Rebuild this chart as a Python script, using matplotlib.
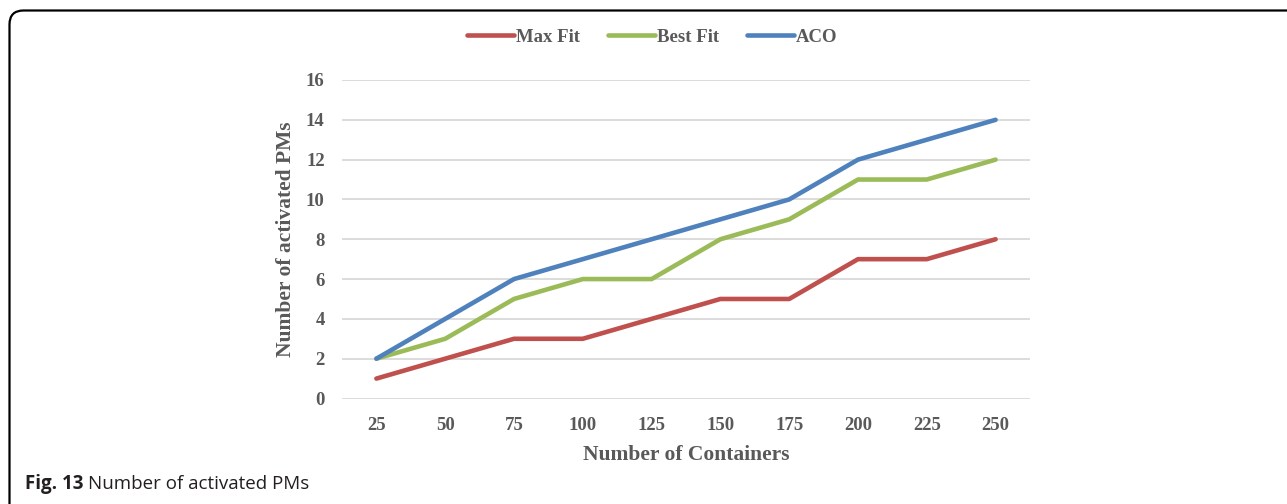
import matplotlib
matplotlib.use("Agg")
import matplotlib.pyplot as plt
from matplotlib.patches import FancyBboxPatch
from matplotlib.transforms import IdentityTransform
import numpy as np

containers = ["25", "50", "75", "100", "125", "150", "175", "200", "225", "250"]
max_fit = [1, 2, 3, 3, 4, 5, 5, 7, 7, 8]
best_fit = [2, 3, 5, 6, 6, 8, 9, 11, 11, 12]
aco = [2, 4, 6, 7, 8, 9, 10, 12, 13, 14]
y_ticks = [0, 2, 4, 6, 8, 10, 12, 14, 16]

W, H, DPI = 1287, 504, 100
fig = plt.figure(figsize=(W / DPI, H / DPI), dpi=DPI)
fig.patch.set_facecolor("white")

serif = ["Liberation Serif", "DejaVu Serif"]
txt_col = "#595959"

# axes placement in pixels
left, right, top, bottom = 342, 1030, 80, 398.5
ax = fig.add_axes([left / W, 1 - bottom / H, (right - left) / W, (bottom - top) / H])

x = np.arange(len(containers))
series = [("Max Fit", max_fit, "#C0504D"),
          ("Best Fit", best_fit, "#9BBB59"),
          ("ACO", aco, "#4F81BD")]
handles = []
for name, vals, col in series:
    h, = ax.plot(x, vals, color=col, lw=3.3, solid_capstyle="round",
                 solid_joinstyle="round", label=name, zorder=3)
    handles.append(h)

ax.set_xlim(-0.5, len(containers) - 0.5)
ax.set_ylim(0, 16)
ax.set_yticks(y_ticks)
ax.set_xticks(x)
ax.set_xticklabels(containers)
ax.grid(axis="y", color="#D9D9D9", lw=1.3)
ax.set_axisbelow(True)
for s in ax.spines.values():
    s.set_visible(False)
ax.tick_params(length=0, labelsize=13.5, labelcolor=txt_col)
ax.tick_params(axis="y", pad=12.5)
ax.tick_params(axis="x", pad=13)
for lab in ax.get_xticklabels() + ax.get_yticklabels():
    lab.set_fontfamily(serif)
    lab.set_fontweight("bold")

ax.set_xlabel("Number of Containers", fontsize=15.5, fontweight="bold",
              color=txt_col, family=serif, labelpad=8)
ax.set_ylabel("Number of activated PMs", fontsize=15.5, fontweight="bold",
              color=txt_col, family=serif, labelpad=7)

leg = fig.legend(handles=handles, loc="center", bbox_to_anchor=(652 / W, 1 - 37 / H),
                 ncol=3, frameon=False, handlelength=2.5, handletextpad=0.1,
                 columnspacing=1.5,
                 prop={"family": serif, "weight": "bold", "size": 13.5})
for t in leg.get_texts():
    t.set_color(txt_col)

# rounded frame around the figure panel
frame = FancyBboxPatch((9.5, -40), 1330, H - 10.5 + 40,
                       boxstyle="round,pad=0,rounding_size=14",
                       transform=IdentityTransform(), fill=False,
                       edgecolor="black", lw=1.6)
fig.patches.append(frame)

# caption
cap_y = 1 - 484 / H
cap_font = ["Open Sans", "DejaVu Sans"]
t1 = fig.text(25 / W, cap_y, "Fig. 13", fontsize=13.5, fontweight="bold",
              family=cap_font, va="center", color="#231F20")
fig.canvas.draw()
bb = t1.get_window_extent()
fig.text((bb.x1 + 5) / W, cap_y, "Number of activated PMs", fontsize=13.5,
         family=cap_font, va="center", color="#231F20")

fig.savefig("out.png", dpi=DPI)
